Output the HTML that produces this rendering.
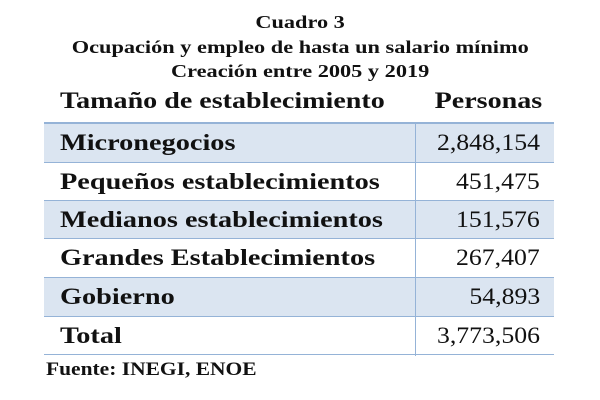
<!DOCTYPE html>
<html><head><meta charset="utf-8"><style>
body{margin:0;width:600px;height:400px;background:#fff;font-family:"Liberation Serif",serif;color:#111;position:relative;overflow:hidden}
.t{position:absolute;left:0;width:600px;text-align:center;font-weight:bold;font-size:18px;line-height:20px}
.t span{display:inline-block;transform:scaleX(1.24)}
.h{position:absolute;top:88px;font-weight:bold;font-size:23px;display:inline-block;transform:scaleX(1.22)}
.row{position:absolute;left:44px;width:510px;border-bottom:1px solid #95b3d7}
.row .l{position:absolute;left:16px;font-weight:bold;font-size:23px;transform:scaleX(1.23);transform-origin:left center}
.row .v{position:absolute;right:14px;font-size:23px;transform:scaleX(1.12);transform-origin:right center}
.shade{background:#dbe5f1}
.div{position:absolute;left:415px;top:124px;width:1px;height:232px;background:#95b3d7}
</style></head><body>
<div class="t" style="top:12px"><span>Cuadro 3</span></div>
<div class="t" style="top:37px"><span>Ocupación y empleo de hasta un salario mínimo</span></div>
<div class="t" style="top:61px"><span>Creación entre 2005 y 2019</span></div>
<div class="h" style="left:60px;transform-origin:left center">Tamaño de establecimiento</div>
<div class="h" style="right:58px;transform-origin:right center">Personas</div>
<div style="position:absolute;left:44px;top:122px;width:510px;height:2px;background:#95b3d7"></div>
<div id="rows"></div>
<div class="div"></div>
<div style="position:absolute;left:46px;top:359px;font-weight:bold;font-size:19px;transform:scaleX(1.13);transform-origin:left center">Fuente: INEGI, ENOE</div>
<script>
const labels=["Micronegocios","Pequeños establecimientos","Medianos establecimientos","Grandes Establecimientos","Gobierno","Total"];
const values=["2,848,154","451,475","151,576","267,407","54,893","3,773,506"];
const tops=[124,163,201,239,278,317];
const hts=[39,38,38,39,39,38];
const c=document.getElementById('rows');
labels.forEach((lab,i)=>{
const r=document.createElement('div');
r.className='row'+(i%2===0&&i<5?' shade':'');
r.style.top=tops[i]+'px';r.style.height=(hts[i]-1)+'px';


const lh=(hts[i]-1)+'px';
const a=document.createElement('span');a.className='l';a.textContent=lab;a.style.lineHeight=lh;


const b=document.createElement('span');b.className='v';b.textContent=values[i];b.style.lineHeight=lh;


r.appendChild(a);r.appendChild(b);c.appendChild(r);
});
</script>
</body></html>
